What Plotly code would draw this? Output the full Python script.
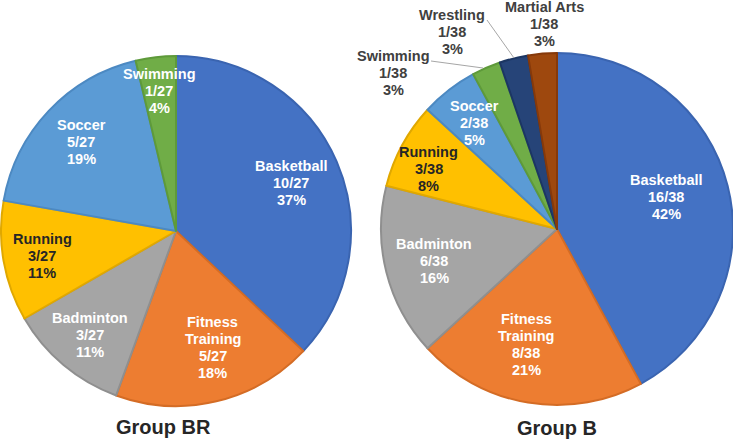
import plotly.graph_objects as go

W, H = 733, 440

# ---- data ----
br_labels = ["Basketball", "Fitness Training", "Badminton", "Running", "Soccer", "Swimming"]
br_counts = [10, 5, 3, 3, 5, 1]
br_pcts = [37, 18, 11, 11, 19, 4]
br_total = 27

b_labels = ["Basketball", "Fitness Training", "Badminton", "Running", "Soccer",
            "Swimming", "Wrestling", "Martial Arts"]
b_counts = [16, 8, 6, 3, 2, 1, 1, 1]
b_pcts = [42, 21, 16, 8, 5, 3, 3, 3]
b_total = 38

colors = {
    "Basketball": "#4472C4", "Fitness Training": "#ED7D31", "Badminton": "#A5A5A5",
    "Running": "#FFC000", "Soccer": "#5B9BD5", "Swimming": "#70AD47",
    "Wrestling": "#264478", "Martial Arts": "#9E480E",
}
edge = {
    "Basketball": "#3A64B0", "Fitness Training": "#D46C25", "Badminton": "#8F8F8F",
    "Running": "#E0A800", "Soccer": "#4C89C2", "Swimming": "#5E9A3A",
    "Wrestling": "#1C3663", "Martial Arts": "#86390A",
}

def px(x, y):
    return x / W, 1 - y / H

fig = go.Figure()

fig.add_trace(go.Pie(
    labels=br_labels, values=br_counts, sort=False, direction="clockwise", rotation=0,
    marker=dict(colors=[colors[l] for l in br_labels],
                line=dict(color=[edge[l] for l in br_labels], width=2)),
    textinfo="none", hoverinfo="label+value+percent", showlegend=False,
    domain=dict(x=[px(1, 0)[0], px(351, 0)[0]], y=[px(0, 406)[1], px(0, 56)[1]]),
))
fig.add_trace(go.Pie(
    labels=b_labels, values=b_counts, sort=False, direction="clockwise", rotation=0,
    marker=dict(colors=[colors[l] for l in b_labels],
                line=dict(color=[edge[l] for l in b_labels], width=2)),
    textinfo="none", hoverinfo="label+value+percent", showlegend=False,
    domain=dict(x=[px(381, 0)[0], px(733, 0)[0]], y=[px(0, 405)[1], px(0, 53)[1]]),
))

font_family = "Liberation Sans, Arial, sans-serif"
LINE_H = 17  # px between label lines

def label_lines(name, n, total, pct):
    name_lines = name.split(" ") if name == "Fitness Training" else [name]
    return name_lines + [f"{n}/{total}", f"{pct}%"]

# label centres (pixels) – layout only
br_pos = {
    "Basketball": (291, 183), "Fitness Training": (213, 347), "Badminton": (90, 335),
    "Running": (42, 256), "Soccer": (81, 142), "Swimming": (159, 91),
}
b_pos = {
    "Basketball": (666, 197), "Fitness Training": (526, 344), "Badminton": (434, 261),
    "Running": (429, 169), "Soccer": (474, 123), "Swimming": (393, 73),
    "Wrestling": (452, 32), "Martial Arts": (544, 24),
}
dark = {"Running"}
outside = {"Swimming", "Wrestling", "Martial Arts"}

annotations = []
for labels, counts, pcts, total, pos, is_b in [
        (br_labels, br_counts, br_pcts, br_total, br_pos, False),
        (b_labels, b_counts, b_pcts, b_total, b_pos, True)]:
    for name, n, p in zip(labels, counts, pcts):
        cx, cy = pos[name]
        if is_b and name in outside:
            col = "#404040"
        elif name in dark:
            col = "#262626"
        else:
            col = "white"
        lines = label_lines(name, n, total, p)
        k = len(lines)
        for i, line in enumerate(lines):
            x, y = px(cx, cy + (i - (k - 1) / 2) * LINE_H)
            annotations.append(dict(
                x=x, y=y, xref="paper", yref="paper", showarrow=False,
                text=f"<b>{line}</b>", align="center",
                font=dict(family=font_family, size=14.5, color=col),
                xanchor="center", yanchor="middle",
            ))

annotations.append(dict(x=px(163, 0)[0], y=px(0, 427)[1], xref="paper", yref="paper",
                        showarrow=False, text="<b>Group BR</b>",
                        font=dict(family=font_family, size=20, color="#262626"),
                        xanchor="center", yanchor="middle"))
annotations.append(dict(x=px(557, 0)[0], y=px(0, 428)[1], xref="paper", yref="paper",
                        showarrow=False, text="<b>Group B</b>",
                        font=dict(family=font_family, size=20, color="#262626"),
                        xanchor="center", yanchor="middle"))

# leader lines for small slices
shapes = []
for (x0, y0), (x1, y1) in [((431, 61), (483, 68)), ((487, 20), (514, 58))]:
    a0 = px(x0, y0); a1 = px(x1, y1)
    shapes.append(dict(type="line", xref="paper", yref="paper",
                       x0=a0[0], y0=a0[1], x1=a1[0], y1=a1[1],
                       line=dict(color="#A6A6A6", width=1)))

fig.update_layout(
    width=W, height=H, margin=dict(l=0, r=0, t=0, b=0),
    paper_bgcolor="white", plot_bgcolor="white",
    annotations=annotations, shapes=shapes,
)

fig.write_html("out.html", config={"displayModeBar": False},
               post_script="document.body.style.margin='0px';")
